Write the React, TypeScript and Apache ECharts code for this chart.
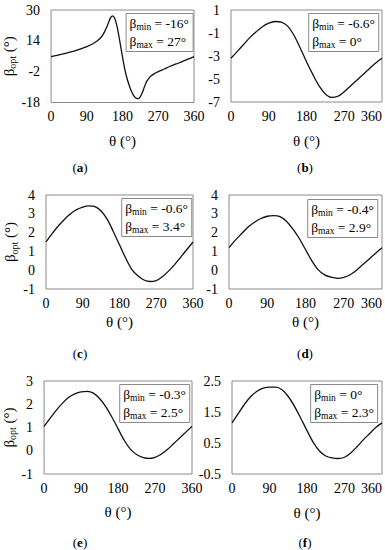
import React, { useEffect, useRef } from "react";
import * as echarts from "echarts";

const thetaA = [0, 15, 30, 45, 60, 75, 90, 105, 115, 125, 130, 135, 140, 145, 150, 155, 160, 165, 170, 175, 180, 185, 190, 195, 200, 205, 210, 215, 220, 225, 230, 235, 240, 245, 250, 260, 270, 285, 300, 315, 330, 345, 360];
const betaA = [5.8, 6.5, 7.2, 8.0, 8.8, 9.8, 11.0, 12.5, 13.8, 15.6, 17.0, 18.8, 21.0, 23.6, 26.0, 27.0, 25.8, 22.5, 17.5, 11.5, 5.5, 0.0, -4.5, -8.0, -11.0, -13.3, -15.0, -15.9, -16.0, -15.0, -12.8, -10.0, -7.4, -5.8, -4.5, -3.0, -2.0, -0.6, 0.8, 2.0, 3.2, 4.5, 5.8];

const theta15 = [0, 15, 30, 45, 60, 75, 90, 105, 120, 135, 150, 165, 180, 195, 210, 225, 240, 255, 270, 285, 300, 315, 330, 345, 360];
const betaB = [-3.2, -2.6, -2.0, -1.4, -0.9, -0.45, -0.15, 0.0, -0.05, -0.4, -1.2, -2.3, -3.5, -4.6, -5.6, -6.3, -6.6, -6.5, -6.1, -5.6, -5.1, -4.6, -4.1, -3.6, -3.2];
const betaC = [1.5, 1.95, 2.35, 2.7, 3.0, 3.22, 3.36, 3.42, 3.38, 3.15, 2.7, 2.05, 1.35, 0.65, 0.05, -0.3, -0.52, -0.6, -0.55, -0.35, -0.05, 0.3, 0.7, 1.1, 1.5];
const betaD = [1.2, 1.6, 1.95, 2.3, 2.55, 2.75, 2.87, 2.9, 2.85, 2.6, 2.2, 1.7, 1.1, 0.5, 0.02, -0.25, -0.37, -0.43, -0.38, -0.24, 0.0, 0.3, 0.6, 0.9, 1.2];
const betaE = [1.05, 1.4, 1.75, 2.05, 2.3, 2.45, 2.53, 2.55, 2.48, 2.25, 1.9, 1.45, 0.95, 0.45, 0.07, -0.16, -0.28, -0.33, -0.28, -0.15, 0.05, 0.3, 0.55, 0.8, 1.05];
const betaF = [1.15, 1.45, 1.75, 2.0, 2.17, 2.27, 2.3, 2.3, 2.22, 2.0, 1.68, 1.3, 0.9, 0.52, 0.24, 0.08, 0.02, 0.0, 0.04, 0.18, 0.38, 0.6, 0.8, 1.0, 1.15];

const panelLetters = ["a", "b", "c", "d", "e", "f"];
const yMins = [-18, -7, -1, -1, -1, -0.5];
const yMaxs = [30, 1, 4, 4, 3, 2.5];
const yIntervals = [16, 2, 1, 1, 1, 1];
const betaMinText = ["-16", "-6.6", "-0.6", "-0.4", "-0.3", "0"];
const betaMaxText = ["27", "0", "3.4", "2.9", "2.5", "2.3"];
const xMin = 0;
const xMax = 360;
const xInterval = 90;

const FONT = "Liberation Serif";

// layout (positions only)
const grids = [
  { left: 51, top: 10, width: 143, height: 92.5 },
  { left: 231, top: 10, width: 151, height: 92 },
  { left: 46, top: 195, width: 147, height: 94 },
  { left: 229, top: 195, width: 153, height: 94 },
  { left: 42, top: 381, width: 150, height: 93 },
  { left: 232, top: 381, width: 150, height: 93 },
];
const legendPos = [
  { right: 192, top: 13 },
  { right: 6, top: 13 },
  { right: 193, top: 198 },
  { right: 7, top: 199 },
  { right: 195, top: 384 },
  { right: 7, top: 384 },
];
const yNameGaps = [32, 0, 27, 0, 22, 0];
const xNameGaps = [31, 31, 25, 25, 30, 31];
const captionPos = [
  [80, 167], [305, 167], [80, 353], [305, 353], [80, 542], [305, 542],
];

export default function App() {
  const ref = useRef<HTMLDivElement>(null);
  useEffect(() => {
    if (!ref.current) return;
    const chart = echarts.init(ref.current, undefined, { renderer: "svg" });
    const seriesVals = [betaA, betaB, betaC, betaD, betaE, betaF];
    const seriesTheta = [thetaA, theta15, theta15, theta15, theta15, theta15];

    const richAxis = {
      b: { fontFamily: FONT, fontSize: 15, color: "#000", fontWeight: "normal", lineHeight: 18 },
      t: { fontFamily: FONT, fontSize: 15, color: "#000", fontWeight: "normal", lineHeight: 18 },
      s: { fontFamily: FONT, fontSize: 10, color: "#000", fontWeight: "normal", lineHeight: 8, verticalAlign: "bottom" },
    };
    const richLegend = {
      b: { fontFamily: FONT, fontSize: 13.5, color: "#000", fontWeight: "normal", lineHeight: 18 },
      t: { fontFamily: FONT, fontSize: 13.5, color: "#000", fontWeight: "normal", lineHeight: 18 },
      s: { fontFamily: FONT, fontSize: 9.5, color: "#000", fontWeight: "normal", lineHeight: 8, verticalAlign: "bottom" },
    };

    const option: any = {
      animation: false,
      backgroundColor: "#fff",
      textStyle: { fontFamily: FONT },
      grid: grids.map((g) => ({
        ...g,
        show: true,
        borderColor: "#8a8a8a",
        borderWidth: 1,
        backgroundColor: "transparent",
        containLabel: false,
      })),
      xAxis: grids.map((_, i) => ({
        type: "value",
        gridIndex: i,
        min: xMin,
        max: xMax,
        interval: xInterval,
        axisLine: { show: false },
        axisTick: { show: false },
        splitLine: { show: false },
        axisLabel: {
          fontFamily: FONT,
          fontSize: 14,
          color: "#000",
          margin: 7,
          alignMaxLabel: i % 2 === 1 ? "right" : "center",
        },
        name: "θ (°)",
        nameLocation: "middle",
        nameGap: xNameGaps[i],
        nameTextStyle: { fontFamily: FONT, fontSize: 15, color: "#000" },
      })),
      yAxis: grids.map((_, i) => ({
        type: "value",
        gridIndex: i,
        min: yMins[i],
        max: yMaxs[i],
        interval: yIntervals[i],
        axisLine: { show: false },
        axisTick: { show: false },
        splitLine: { show: false },
        axisLabel: { fontFamily: FONT, fontSize: 14, color: "#000", margin: 11 },
        name: i % 2 === 0 ? "{b|β}{s|opt}{t| (°)}" : "",
        nameLocation: "middle",
        nameRotate: 90,
        nameGap: yNameGaps[i],
        nameTextStyle: { fontFamily: FONT, fontSize: 15, color: "#000", rich: richAxis },
      })),
      series: seriesVals.map((vals, i) => ({
        type: "line",
        xAxisIndex: i,
        yAxisIndex: i,
        data: vals.map((v, k) => [seriesTheta[i][k], v]),
        showSymbol: false,
        smooth: 0.3,
        lineStyle: { color: "#111", width: 1.3 },
        silent: true,
        z: 2,
      })),
      title: legendPos.map((p, i) => ({
        text: `{b|β}{s|min}{t| = ${betaMinText[i]}°}\n{b|β}{s|max}{t| = ${betaMaxText[i]}°}`,
        right: p.right,
        top: p.top,
        padding: [1, 4, 2, 4],
        borderColor: "#8a8a8a",
        borderWidth: 1,
        backgroundColor: "#fff",
        z: 5,
        textStyle: { fontFamily: FONT, fontSize: 13.5, fontWeight: "normal", color: "#000", lineHeight: 18, rich: richLegend },
      })),
      graphic: captionPos.map((c, i) => ({
        type: "text",
        x: c[0],
        y: c[1],
        style: {
          text: `{p|(}{l|${panelLetters[i]}}{p|)}`,
          textAlign: "center",
          textVerticalAlign: "middle",
          rich: {
            p: { fontFamily: FONT, fontSize: 13, color: "#000" },
            l: { fontFamily: FONT, fontSize: 13, color: "#000", fontWeight: "bold" },
          },
        },
      })),
    };
    chart.setOption(option);
    return () => chart.dispose();
  }, []);
  return (
    <div
      ref={ref}
      style={{ position: "fixed", left: 0, top: 0, width: 385, height: 550 }}
    />
  );
}
